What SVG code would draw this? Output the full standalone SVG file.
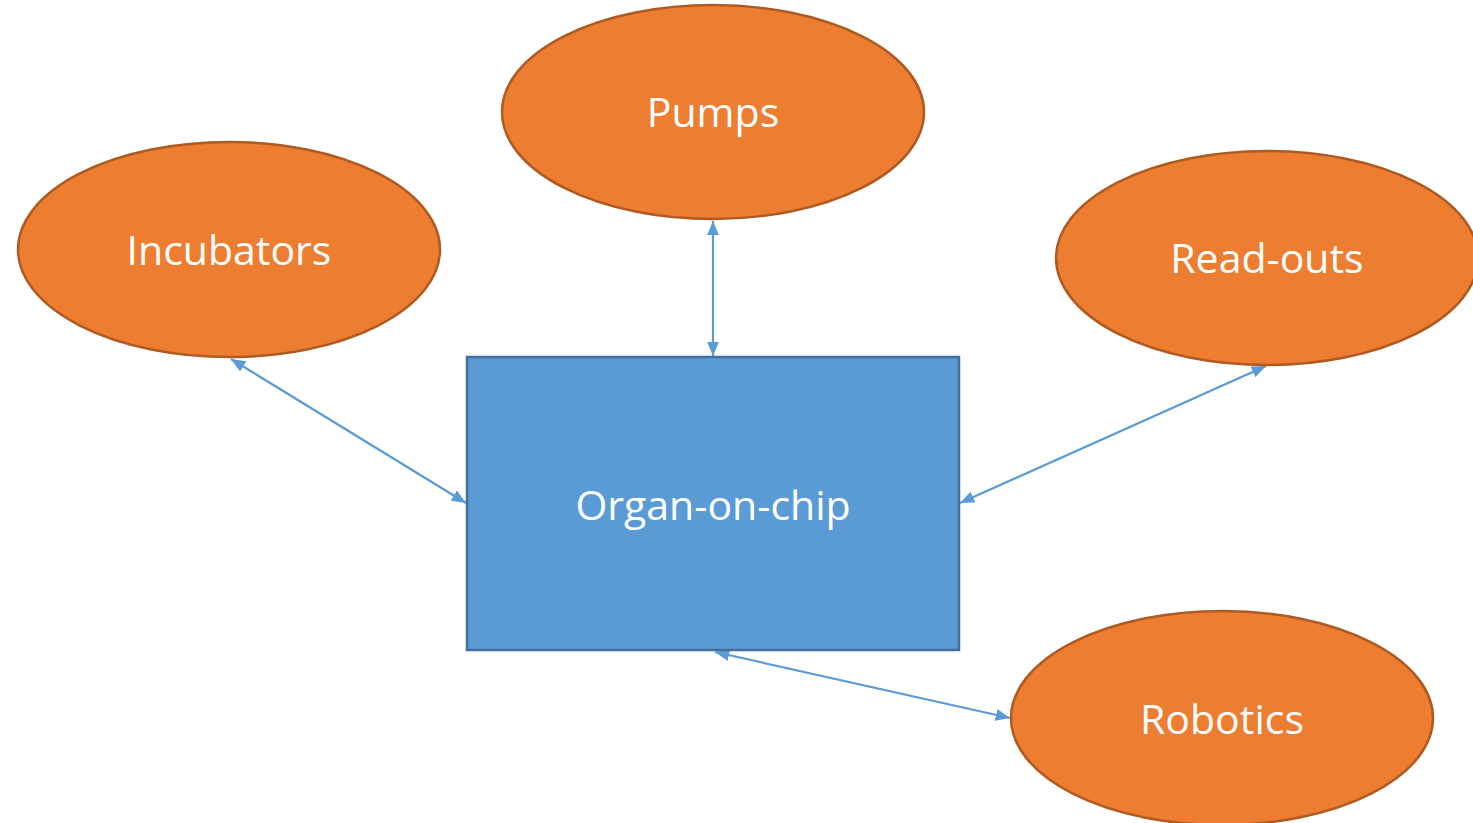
<svg xmlns="http://www.w3.org/2000/svg" width="1473" height="823" viewBox="0 0 1473 823">
<style>
.oval{fill:#ED7D31;stroke:#AE5A21;stroke-width:2.5}
.box{fill:#5B9BD5;stroke:#41719C;stroke-width:2.5}
.lbl{fill:#FFFFFF;font-family:"Open Sans","Noto Sans",sans-serif;font-size:41px;text-anchor:middle}
.con{stroke:#5B9BD5;stroke-width:2.2;fill:none;marker-start:url(#ah);marker-end:url(#ah)}
</style>
<defs>
<marker id="ah" viewBox="0 0 12 10" refX="12" refY="5" markerWidth="6.5" markerHeight="5.5" orient="auto-start-reverse" markerUnits="strokeWidth">
<path d="M0,0 L12,5 L0,10 Z" fill="#5B9BD5"/>
</marker>
</defs>
<rect width="1473" height="823" fill="#FFFFFF"/>
<g id="connectors">
<line class="con" x1="713" y1="221" x2="713" y2="356"/>
<line class="con" x1="231" y1="359" x2="466" y2="503"/>
<line class="con" x1="1266" y1="366" x2="960" y2="503"/>
<line class="con" x1="715" y1="652" x2="1010" y2="718"/>
</g>
<g id="organ-on-chip">
<rect class="box" x="467" y="357" width="492" height="293"/>
<text class="lbl" x="713" y="520">Organ-on-chip</text>
</g>
<g id="pumps">
<ellipse class="oval" cx="713" cy="112" rx="211" ry="107"/>
<text class="lbl" x="713" y="127">Pumps</text>
</g>
<g id="incubators">
<ellipse class="oval" cx="229" cy="249.5" rx="211" ry="107.5"/>
<text class="lbl" x="229" y="265">Incubators</text>
</g>
<g id="read-outs">
<ellipse class="oval" cx="1267" cy="258" rx="211" ry="107"/>
<text class="lbl" x="1267" y="273">Read-outs</text>
</g>
<g id="robotics">
<ellipse class="oval" cx="1222" cy="718" rx="211" ry="107"/>
<text class="lbl" x="1222" y="734">Robotics</text>
</g>
</svg>
